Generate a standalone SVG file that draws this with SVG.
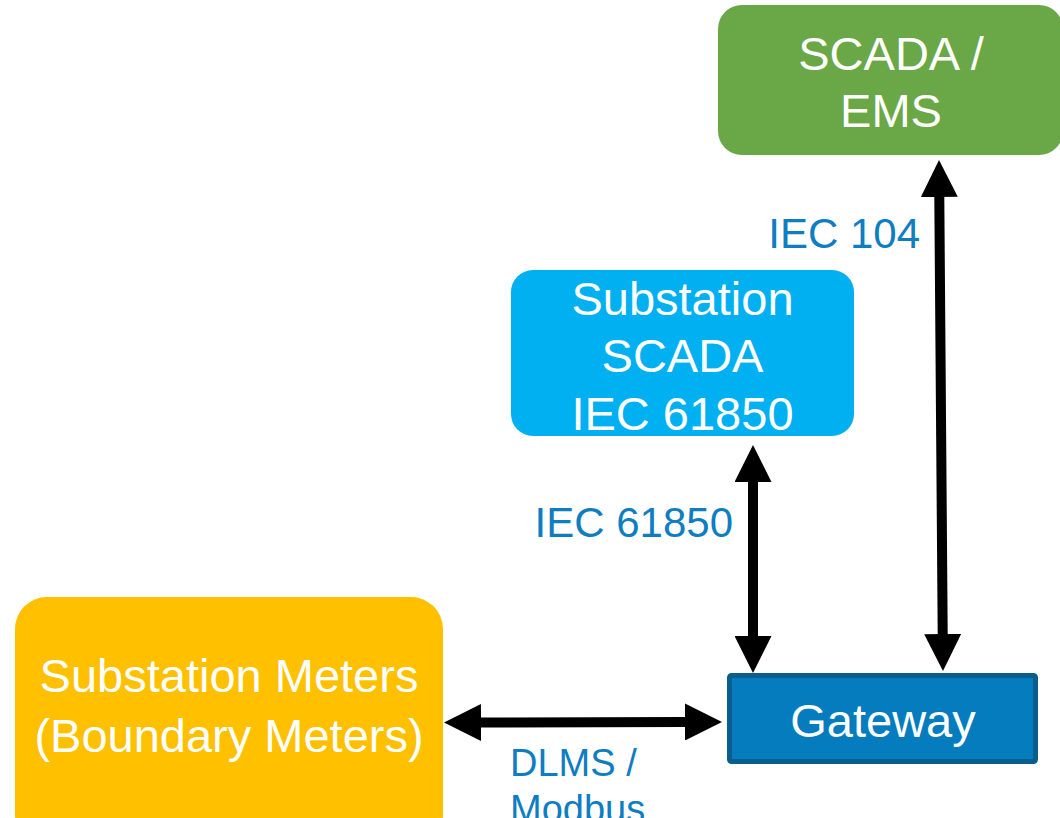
<svg xmlns="http://www.w3.org/2000/svg" width="1060" height="818" viewBox="0 0 1060 818">
  <defs>
    <style>
      .box-text { font-family: "Liberation Sans", Arial, sans-serif; font-size: 47px; fill: #ffffff; text-anchor: middle; }
      .proto { font-family: "Liberation Sans", Arial, sans-serif; fill: #0e7dc1; }
      .link { stroke: #000000; stroke-width: 10; fill: none; marker-start: url(#head); marker-end: url(#head); }
    </style>
    <marker id="head" markerUnits="userSpaceOnUse" markerWidth="37" markerHeight="37" viewBox="0 0 37 37" refX="0" refY="18.5" orient="auto-start-reverse">
      <path d="M0,0 L37,18.5 L0,37 Z" fill="#000000"/>
    </marker>
  </defs>

  <rect width="1060" height="818" fill="#ffffff"/>

  <!-- control centre -->
  <g id="scada-ems">
    <rect x="718" y="5" width="345" height="150" rx="24" fill="#6aa746"/>
    <text class="box-text" x="891" y="70">SCADA /</text>
    <text class="box-text" x="891" y="127">EMS</text>
  </g>

  <!-- station level SCADA -->
  <g id="substation-scada">
    <rect x="511" y="270" width="343" height="166" rx="22" fill="#00b0f0"/>
    <text class="box-text" x="682.5" y="315">Substation</text>
    <text class="box-text" x="682.5" y="372">SCADA</text>
    <text class="box-text" x="682.5" y="430">IEC 61850</text>
  </g>

  <!-- metering -->
  <g id="substation-meters">
    <rect x="15" y="597" width="428" height="250" rx="32" fill="#ffc000"/>
    <text class="box-text" x="229" y="692">Substation Meters</text>
    <text class="box-text" x="229" y="752">(Boundary Meters)</text>
  </g>

  <!-- gateway -->
  <g id="gateway">
    <rect x="729.5" y="675.5" width="306" height="86" rx="2" fill="#057cbd" stroke="#0a5e8e" stroke-width="5"/>
    <text class="box-text" x="883" y="737">Gateway</text>
  </g>

  <!-- links -->
  <g id="connectors">
    <line class="link" x1="939.3" y1="197" x2="942.7" y2="634"/>
    <line class="link" x1="753" y1="482" x2="753" y2="636"/>
    <line class="link" x1="481" y1="722.5" x2="685" y2="722"/>
  </g>

  <!-- protocol labels -->
  <g id="labels">
    <text class="proto" x="920" y="248" font-size="42" text-anchor="end">IEC 104</text>
    <text class="proto" x="733" y="537" font-size="42" text-anchor="end">IEC 61850</text>
    <text class="proto" x="510" y="776" font-size="38">DLMS /</text>
    <text class="proto" x="510" y="822" font-size="38">Modbus</text>
  </g>
</svg>
